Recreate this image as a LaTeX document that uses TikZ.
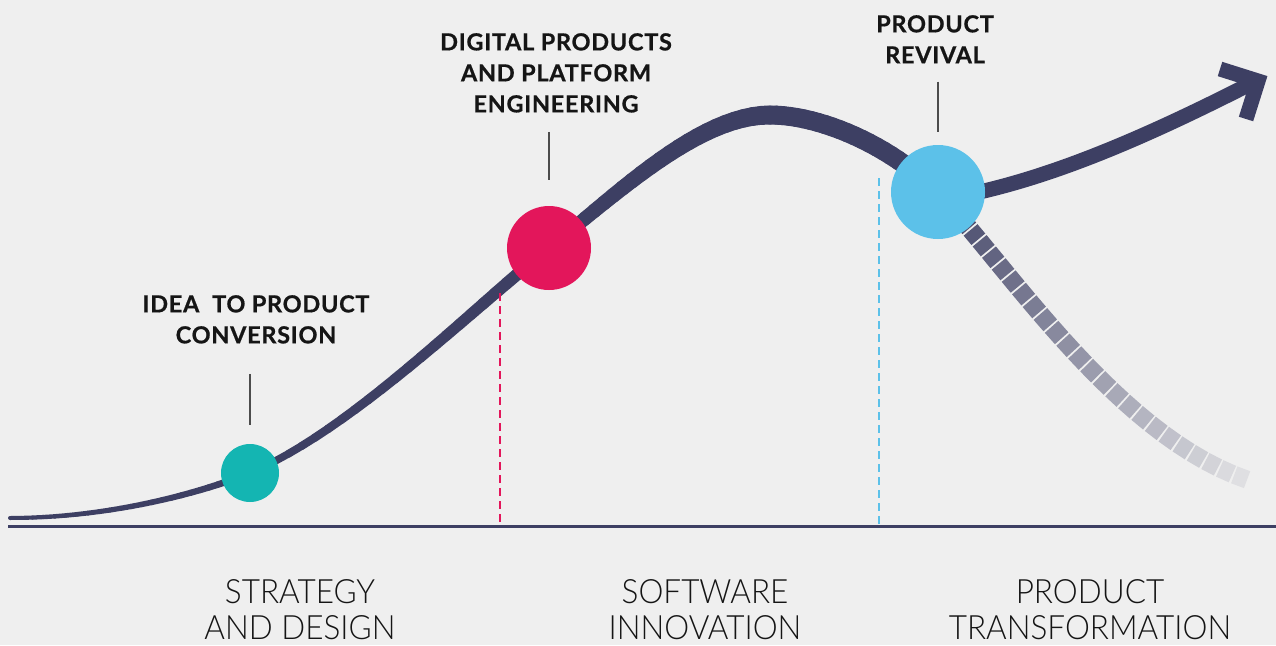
\documentclass[tikz,border=0pt]{standalone}
\usepackage{fontspec}
\setmainfont{Lato}
\newfontfamily\condfont[FakeStretch=0.94]{Lato Light}
\newfontfamily\heavyfont[BoldFeatures={FakeBold=0.7,LetterSpace=3}]{Lato}
\definecolor{navy}{HTML}{3D3F63}
\definecolor{bgc}{HTML}{EFEFEF}
\definecolor{tealc}{HTML}{14B5B2}
\definecolor{redc}{HTML}{E3165B}
\definecolor{bluec}{HTML}{5CC1E9}
\definecolor{ink}{HTML}{151515}
\newcommand\varseg[6]{%
  \foreach \i [evaluate=\i as \tp using \i/24] in {0,...,24}
    \path #1 .. controls #2 and #3 .. #4 coordinate[pos=\tp] (vs\i);
  \foreach \i [evaluate=\i as \w using #5+(#6-#5)*\i/23, evaluate=\i as \j using int(\i+1)] in {0,...,23}
    \draw[navy, line width=\w pt, line cap=round] (vs\i) -- (vs\j);
}
\tikzset{
  toplabel/.style={anchor=north, align=center, inner sep=0pt, text=ink,
    font=\fontsize{23.5}{31}\selectfont\heavyfont\bfseries},
  botlabel/.style={anchor=north, align=center, inner sep=0pt, text=ink,
    font=\fontsize{33.5}{36}\selectfont\condfont},
  lead/.style={draw=black!70, line width=1.5pt},
  dot/.style={circle, inner sep=0pt},
  dropline/.style={line width=2pt, dash pattern=on 8pt off 5pt},
}
\begin{document}
\begin{tikzpicture}[x=1pt,y=-1pt]
\fill[bgc] (0,0) rectangle (1276,645);
\useasboundingbox (0,0) rectangle (1276,645);

% axis
\coordinate (ax0) at (8,526);
\coordinate (ax1) at (1276,526);
\draw[navy, line width=3pt] (ax0) -- (ax1);

% fading tail
\foreach \i [evaluate=\i as \tp using \i/27] in {0,...,27}
  \path (937,192) .. controls (1005,262) and (1115,435) .. (1248,480) coordinate[pos=\tp] (fd\i);
\foreach \i [evaluate=\i as \k using int(100-3.5*\i), evaluate=\i as \j using int(\i+1)] in {0,...,26}
  \draw[navy!\k!bgc, line width=18pt, shorten <=1pt, shorten >=1pt] (fd\i) -- (fd\j);

% main curve, growing width
\varseg{(10,518)}{(100,518)}{(190,497)}{(250,473)}{4}{7}
\varseg{(250,473)}{(350,431)}{(470,311)}{(549,248)}{7}{13}
\varseg{(549,248)}{(620,191)}{(700,115)}{(770,115)}{13}{19}
\varseg{(770,115)}{(820,115)}{(890,145)}{(937,192)}{19}{19}

% revival arrow
\coordinate (ar0) at (937,200);
\coordinate (ar1) at (1254,82);
\draw[navy, line width=15pt] (ar0) .. controls (1040,185) and (1150,135) .. (ar1);
\coordinate (hd0) at (1220,69);
\coordinate (hd1) at (1258,81);
\coordinate (hd2) at (1246,119);
\draw[navy, line width=15pt, line join=miter] (hd0) -- (hd1) -- (hd2);

% dashed drop lines
\coordinate (dr0) at (500,293);
\coordinate (dr1) at (500,526);
\coordinate (db0) at (879,178);
\coordinate (db1) at (879,528);
\draw[dropline, draw=redc] (dr0) -- (dr1);
\draw[dropline, draw=bluec] (db0) -- (db1);

% milestone dots
\node[dot, fill=tealc, minimum size=58pt] (c1) at (250,473) {};
\node[dot, fill=redc, minimum size=84pt] (c2) at (549,248) {};
\node[dot, fill=bluec, minimum size=94pt] (c3) at (938,192) {};

% labels
\node[toplabel] (lab1) at (256,295) {IDEA\ \ TO PRODUCT\\CONVERSION};
\node[toplabel] (lab2) at (556,33) {DIGITAL PRODUCTS\\AND PLATFORM\\ENGINEERING};
\node[toplabel] (lab3) at (935,15) {PRODUCT\\REVIVAL};

\draw[lead, shorten <=30pt, shorten >=19pt] (lab1.south -| c1.north) -- (c1.north);
\draw[lead, shorten <=19pt, shorten >=26pt] (lab2.south -| c2.north) -- (c2.north);
\draw[lead, shorten <=18pt, shorten >=13pt] (lab3.south -| c3.north) -- (c3.north);

\node[botlabel] (ph1) at (300,579) {STRATEGY\\AND DESIGN};
\node[botlabel] (ph2) at (705,579) {SOFTWARE\\INNOVATION};
\node[botlabel] (ph3) at (1090,579) {PRODUCT\\TRANSFORMATION};
\end{tikzpicture}
\end{document}
